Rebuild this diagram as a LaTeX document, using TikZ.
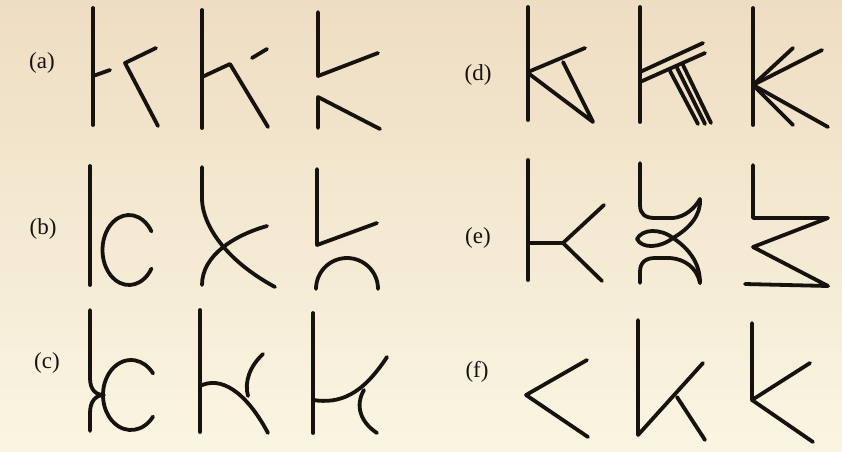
\documentclass[tikz,border=0pt]{standalone}
\usepackage{fontspec}
\setmainfont{Liberation Serif}
\usepackage{tikz}
\definecolor{PaperTop}{RGB}{238, 221, 194}
\definecolor{PaperBottom}{RGB}{250, 245, 226}
\definecolor{InkBlack}{RGB}{22, 18, 14}
\tikzset{
    glyph/.style={draw=InkBlack, line width=3.8pt, line cap=round, line join=round},
    caption/.style={font=\fontsize{23}{27}\selectfont, text=InkBlack, inner sep=0pt}
}

\begin{document}
\begin{tikzpicture}[x=1pt, y=-1pt]
    \shade[top color=PaperTop, bottom color=PaperBottom] (0,0) rectangle (842,451);
    \useasboundingbox (0,0) rectangle (842,451);

    \node[caption] (la) at (42,63) {(a)};
    \node[caption] (lb) at (43,229) {(b)};
    \node[caption] (lc) at (47,363) {(c)};
    \node[caption] (ld) at (478,75) {(d)};
    \node[caption] (le) at (478,238) {(e)};
    \node[caption] (lf) at (477,372) {(f)};

    % row a
    \draw[glyph] (93,8) -- (93,125);
    \draw[glyph] (93,76) -- (110,70);
    \draw[glyph] (156,48) -- (125,63) -- (158,126);
    \draw[glyph] (202,10) -- (202,128);
    \draw[glyph] (202,77) -- (230,64) -- (268,127);
    \draw[glyph] (252,58) -- (267,49);
    \draw[glyph] (318,12) -- (318,76) -- (378,53);
    \draw[glyph] (318,128) -- (318,97) -- (380,129);

    % row b
    \draw[glyph] (90,166) -- (90,285);
    \draw[glyph] (129,250) ++(32:26.5 and 35) arc[start angle=32, end angle=328, x radius=26.5, y radius=35];
    \draw[glyph] (202,167) -- (202,200) .. controls (203,225) and (225,260) .. (275,287);
    \draw[glyph] (267,226) .. controls (235,235) and (202,255) .. (202,285);
    \draw[glyph] (317,169) -- (317,245) -- (377,223);
    \draw[glyph] (316,289) arc[start angle=180, end angle=360, x radius=31, y radius=31];

    % row c
    \draw[glyph] (90,310) -- (90,378) .. controls (90,390) and (96,395) .. (104,395)
        .. controls (96,395) and (90,401) .. (90,413) -- (90,431);
    \draw[glyph] (131,395) ++(38:28 and 35) arc[start angle=38, end angle=322, x radius=28, y radius=35];
    \draw[glyph] (200,310) -- (200,432);
    \draw[glyph] (200,386) .. controls (220,376) and (245,390) .. (268,433);
    \draw[glyph] (263,354) .. controls (250,366) and (244,382) .. (248,396);
    \draw[glyph] (313,313) -- (313,433);
    \draw[glyph] (313,400) .. controls (340,404) and (362,395) .. (387,357);
    \draw[glyph] (364,390) .. controls (355,405) and (360,422) .. (377,433);

    % row d
    \draw[glyph] (528,7) -- (528,120);
    \draw[glyph] (528,72) -- (585,48);
    \draw[glyph] (528,73) -- (593,122) -- (563,62);
    \draw[glyph] (640,7) -- (640,122);
    \draw[glyph] (640,72) -- (703,43);
    \draw[glyph] (640,82) -- (705,53);
    \draw[glyph] (670,71) -- (698,124);
    \draw[glyph] (677,68) -- (705,124);
    \draw[glyph] (683,65) -- (711,123);
    \draw[glyph] (753,8) -- (753,125);
    \foreach \tip in {(793,48), (822,50), (793,125), (828,127)}
        \draw[glyph] (753,85) -- \tip;

    % row e
    \draw[glyph] (528,160) -- (528,280);
    \draw[glyph] (528,243) -- (563,243);
    \draw[glyph] (604,205) -- (563,243) -- (602,281);
    \draw[glyph] (640,163) -- (640,205) .. controls (640,214) and (645,218) .. (655,218) -- (673,218)
        .. controls (685,217) and (695,208) .. (700,199);
    \draw[glyph] (700,199) .. controls (701,215) and (690,228) .. (673,238)
        .. controls (660,248) and (642,249) .. (637,239)
        .. controls (642,229) and (660,228) .. (673,238)
        .. controls (688,248) and (700,262) .. (700,283);
    \draw[glyph] (640,283) -- (640,272) .. controls (640,263) and (645,258) .. (655,258) -- (670,258)
        .. controls (685,259) and (697,268) .. (700,283);
    \draw[glyph] (753,165) -- (753,218) -- (828,218) -- (753,247) -- (828,286) -- (745,284);

    % row f
    \draw[glyph] (587,360) -- (526,395) -- (588,437);
    \draw[glyph] (638,320) -- (638,435) -- (703,363);
    \draw[glyph] (677,397) -- (705,440);
    \draw[glyph] (752,323) -- (752,400) -- (810,363);
    \draw[glyph] (752,400) -- (813,442);
\end{tikzpicture}
\end{document}
